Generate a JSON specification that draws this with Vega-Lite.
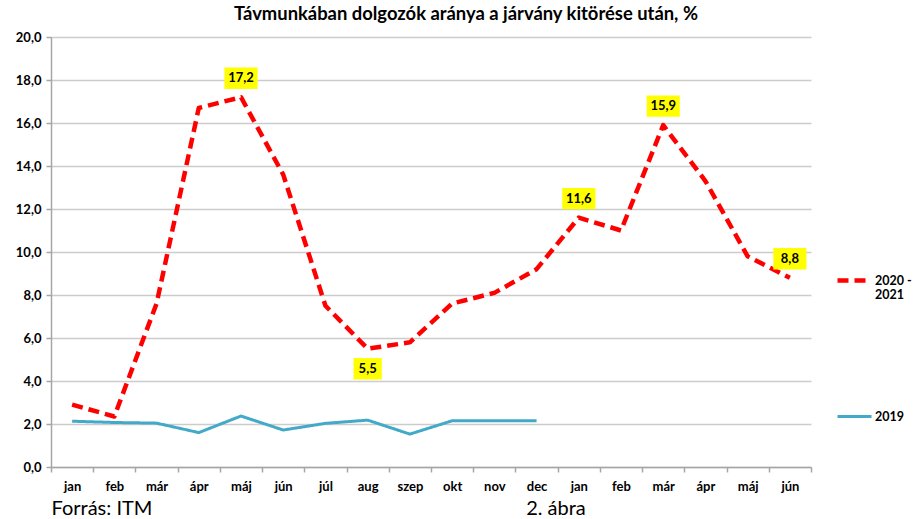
{
  "$schema": "https://vega.github.io/schema/vega-lite/v6.json",
  "width": 760,
  "height": 430,
  "padding": {"left": 15, "top": 4, "right": 2, "bottom": 2},
  "background": "white",
  "title": {
    "text": "Távmunkában dolgozók aránya a járvány kitörése után, %",
    "font": "Lato",
    "fontSize": 18.4,
    "fontWeight": "bold",
    "color": "#000000",
    "anchor": "middle",
    "dx": 35,
    "offset": 8
  },
  "data": {
    "values": [
      {"x": "jan 2020", "series": "2020 - 2021", "value": 2.9},
      {"x": "feb 2020", "series": "2020 - 2021", "value": 2.35},
      {"x": "már 2020", "series": "2020 - 2021", "value": 7.6},
      {"x": "ápr 2020", "series": "2020 - 2021", "value": 16.7},
      {"x": "máj 2020", "series": "2020 - 2021", "value": 17.2, "label": "17,2"},
      {"x": "jún 2020", "series": "2020 - 2021", "value": 13.6},
      {"x": "júl 2020", "series": "2020 - 2021", "value": 7.5},
      {"x": "aug 2020", "series": "2020 - 2021", "value": 5.5, "label": "5,5"},
      {"x": "szep 2020", "series": "2020 - 2021", "value": 5.8},
      {"x": "okt 2020", "series": "2020 - 2021", "value": 7.6},
      {"x": "nov 2020", "series": "2020 - 2021", "value": 8.1},
      {"x": "dec 2020", "series": "2020 - 2021", "value": 9.2},
      {"x": "jan 2021", "series": "2020 - 2021", "value": 11.6, "label": "11,6"},
      {"x": "feb 2021", "series": "2020 - 2021", "value": 11.0},
      {"x": "már 2021", "series": "2020 - 2021", "value": 15.9, "label": "15,9"},
      {"x": "ápr 2021", "series": "2020 - 2021", "value": 13.3},
      {"x": "máj 2021", "series": "2020 - 2021", "value": 9.8},
      {"x": "jún 2021", "series": "2020 - 2021", "value": 8.8, "label": "8,8"},
      {"x": "jan 2020", "series": "2019", "value": 2.13},
      {"x": "feb 2020", "series": "2019", "value": 2.07},
      {"x": "már 2020", "series": "2019", "value": 2.04},
      {"x": "ápr 2020", "series": "2019", "value": 1.6},
      {"x": "máj 2020", "series": "2019", "value": 2.37},
      {"x": "jún 2020", "series": "2019", "value": 1.72},
      {"x": "júl 2020", "series": "2019", "value": 2.03},
      {"x": "aug 2020", "series": "2019", "value": 2.18},
      {"x": "szep 2020", "series": "2019", "value": 1.53},
      {"x": "okt 2020", "series": "2019", "value": 2.15},
      {"x": "nov 2020", "series": "2019", "value": 2.15},
      {"x": "dec 2020", "series": "2019", "value": 2.15}
    ]
  },
  "encoding": {
    "x": {
      "field": "x",
      "type": "ordinal",
      "sort": null,
      "scale": {"paddingInner": 0, "paddingOuter": 0},
      "axis": {
        "labelExpr": "split(datum.label, ' ')[0]",
        "labelAngle": 0,
        "labelFont": "Lato",
        "labelFontSize": 13,
        "labelFontWeight": "bold",
        "labelColor": "#000000",
        "labelPadding": 8,
        "tickBand": "extent",
        "tickSize": 5,
        "tickColor": "#a6a6a6",
        "tickWidth": 1.5,
        "domainColor": "#a6a6a6",
        "domainWidth": 1.5,
        "grid": false,
        "title": "Forrás: ITM\u00a0\u00a0\u00a0\u00a0\u00a0\u00a0\u00a0\u00a0\u00a0\u00a0\u00a0\u00a0\u00a0\u00a0\u00a0\u00a0\u00a0\u00a0\u00a0\u00a0\u00a0\u00a0\u00a0\u00a0\u00a0\u00a0\u00a0\u00a0\u00a0\u00a0\u00a0\u00a0\u00a0\u00a0\u00a0\u00a0\u00a0\u00a0\u00a0\u00a0\u00a0\u00a0\u00a0\u00a0\u00a0\u00a0\u00a0\u00a0\u00a0\u00a0\u00a0\u00a0\u00a0\u00a0\u00a0\u00a0\u00a0\u00a0\u00a0\u00a0\u00a0\u00a0\u00a0\u00a0\u00a0\u00a0\u00a0\u00a0\u00a0\u00a0\u00a0\u00a0\u00a02. ábra",
        "titleFont": "Lato",
        "titleFontSize": 20,
        "titleFontWeight": "normal",
        "titleColor": "#000000",
        "titleAnchor": "start",
        "titlePadding": 5
      }
    },
    "y": {
      "field": "value",
      "type": "quantitative",
      "scale": {"domain": [0, 20], "nice": false},
      "axis": {
        "values": [0, 2, 4, 6, 8, 10, 12, 14, 16, 18, 20],
        "labelExpr": "replace(format(datum.value, '.1f'), '.', ',')",
        "labelFont": "Lato",
        "labelFontSize": 13,
        "labelFontWeight": "bold",
        "labelColor": "#000000",
        "labelPadding": 5,
        "tickSize": 5,
        "tickColor": "#a6a6a6",
        "tickWidth": 1.5,
        "domainColor": "#a6a6a6",
        "domainWidth": 1.5,
        "gridColor": "#cccccc",
        "gridWidth": 1.5,
        "title": null
      }
    }
  },
  "layer": [
    {
      "mark": {"type": "line", "strokeCap": "butt", "strokeJoin": "round"},
      "encoding": {
        "color": {
          "field": "series",
          "type": "nominal",
          "scale": {"domain": ["2020 - 2021", "2019"], "range": ["#ff0000", "#42a9c8"]},
          "legend": {
            "orient": "none",
            "legendX": 784,
            "legendY": 224,
            "title": null,
            "symbolType": "stroke",
            "symbolSize": 1156,
            "symbolStrokeWidth": 4,
            "labelFont": "Lato",
            "labelFontSize": 12.5,
            "labelFontWeight": "bold",
            "labelColor": "#000000",
            "labelOffset": 1,
            "labelExpr": "datum.label == '2020 - 2021' ? ['2020 -', '2021'] : datum.label",
            "rowPadding": 96
          }
        },
        "strokeDash": {
          "field": "series",
          "type": "nominal",
          "scale": {"domain": ["2020 - 2021", "2019"], "range": [[11, 6], [1, 0]]},
          "legend": {
            "orient": "none",
            "legendX": 784,
            "legendY": 224,
            "title": null,
            "symbolType": "stroke",
            "symbolSize": 1156,
            "symbolStrokeWidth": 4,
            "labelFont": "Lato",
            "labelFontSize": 12.5,
            "labelFontWeight": "bold",
            "labelColor": "#000000",
            "labelOffset": 1,
            "labelExpr": "datum.label == '2020 - 2021' ? ['2020 -', '2021'] : datum.label",
            "rowPadding": 96
          }
        },
        "strokeWidth": {
          "field": "series",
          "type": "nominal",
          "scale": {"domain": ["2020 - 2021", "2019"], "range": [4.5, 3]},
          "legend": null
        }
      }
    },
    {
      "transform": [{"filter": "datum.label != null && datum.x != 'aug 2020'"}],
      "mark": {
        "type": "point",
        "shape": "M-1.7,-1.1H1.7V1.1H-1.7Z",
        "size": 380,
        "filled": true,
        "color": "#ffff00",
        "opacity": 1,
        "strokeWidth": 0,
        "yOffset": -19
      }
    },
    {
      "transform": [{"filter": "datum.label != null && datum.x != 'aug 2020'"}],
      "mark": {
        "type": "text",
        "font": "Lato",
        "fontSize": 13,
        "fontWeight": "bold",
        "color": "#000000",
        "baseline": "middle",
        "yOffset": -19
      },
      "encoding": {"text": {"field": "label"}}
    },
    {
      "transform": [{"filter": "datum.x == 'aug 2020' && datum.label != null"}],
      "mark": {
        "type": "point",
        "shape": "M-1.45,-1.1H1.45V1.1H-1.45Z",
        "size": 380,
        "filled": true,
        "color": "#ffff00",
        "opacity": 1,
        "strokeWidth": 0,
        "yOffset": 20
      }
    },
    {
      "transform": [{"filter": "datum.x == 'aug 2020' && datum.label != null"}],
      "mark": {
        "type": "text",
        "font": "Lato",
        "fontSize": 13,
        "fontWeight": "bold",
        "color": "#000000",
        "baseline": "middle",
        "yOffset": 20
      },
      "encoding": {"text": {"field": "label"}}
    }
  ],
  "config": {
    "view": {"stroke": null}
  }
}
